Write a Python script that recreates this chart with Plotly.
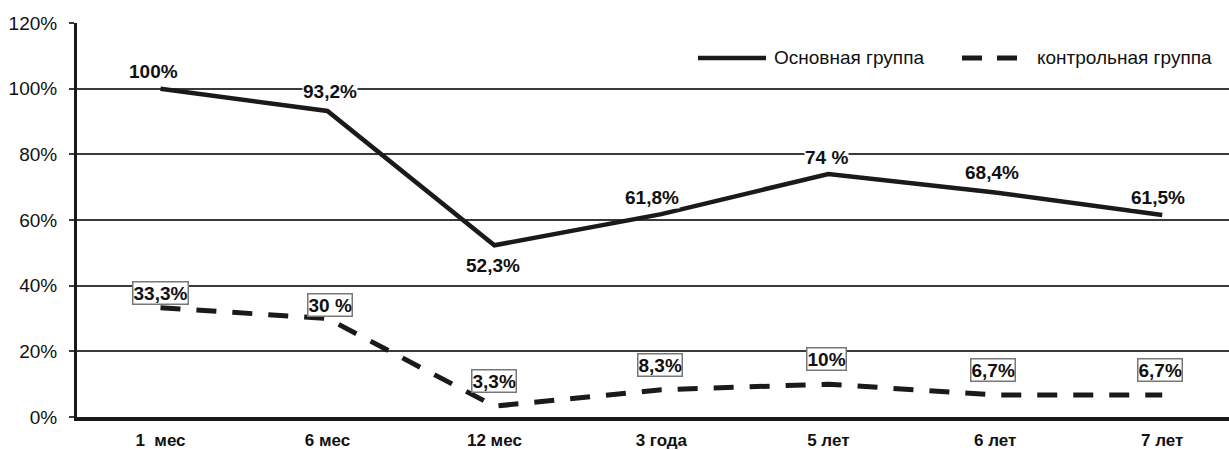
import plotly.graph_objects as go

# Periods of observation
periods = ["1\u00a0 мес", "6 мес", "12 мес", "3 года", "5 лет", "6 лет", "7 лет"]

# Share of patients, %
main_group = [100, 93.2, 52.3, 61.8, 74, 68.4, 61.5]
control_group = [33.3, 30, 3.3, 8.3, 10, 6.7, 6.7]

main_labels = ["100%", "93,2%", "52,3%", "61,8%", "74 %", "68,4%", "61,5%"]
control_labels = ["33,3%", "30 %", "3,3%", "8,3%", "10%", "6,7%", "6,7%"]

y_ticks = [0, 20, 40, 60, 80, 100, 120]
y_tick_text = ["0%", "20%", "40%", "60%", "80%", "100%", "120%"]

series_names = ["Основная группа", "контрольная группа"]

# label offsets in pixels (x, y)
main_shift = [(-7, 17), (3, 19), (-1, -20), (-9, 17), (-2, 17), (-3, 20), (-4, 18)]
control_shift = [(0, 15), (3, 14), (0, 25), (-1, 25), (-2, 25), (-2, 25), (-2, 25)]

FONT = "Liberation Sans, Arial, sans-serif"
INK = "#1a1a1a"

x_idx = list(range(len(periods)))

fig = go.Figure()
fig.add_trace(go.Scatter(
    x=x_idx, y=main_group, mode="lines", name=series_names[0],
    line=dict(color=INK, width=4.5), showlegend=False, hoverinfo="skip",
))
fig.add_trace(go.Scatter(
    x=x_idx, y=control_group, mode="lines", name=series_names[1],
    line=dict(color=INK, width=5, dash="20px,16px"), showlegend=False, hoverinfo="skip",
))

annotations = []
for i, (v, t) in enumerate(zip(main_group, main_labels)):
    dx, dy = main_shift[i]
    annotations.append(dict(
        x=i, y=v, text=f"<b>{t}</b>", showarrow=False,
        xshift=dx, yshift=dy, bgcolor="white", borderpad=0,
        font=dict(family=FONT, size=19, color="#111"),
    ))
for i, (v, t) in enumerate(zip(control_group, control_labels)):
    dx, dy = control_shift[i]
    annotations.append(dict(
        x=i, y=v, text=f"<b>{t}</b>", showarrow=False,
        xshift=dx, yshift=dy, bgcolor="white", bordercolor="#777",
        borderwidth=1.5, borderpad=0,
        font=dict(family=FONT, size=19, color="#111"),
    ))

# hand-drawn legend in the upper right corner
L, W, B, H = 77, 1152, 417, 394
def px(xp):
    return (xp - L) / W
def py(yp):
    return (B - yp) / H

leg_y = py(58)
shapes = [
    dict(type="line", xref="paper", yref="paper", x0=px(698), x1=px(766),
         y0=leg_y, y1=leg_y, line=dict(color=INK, width=4.5)),
    dict(type="line", xref="paper", yref="paper", x0=px(962), x1=px(982),
         y0=leg_y, y1=leg_y, line=dict(color=INK, width=5)),
    dict(type="line", xref="paper", yref="paper", x0=px(997), x1=px(1017),
         y0=leg_y, y1=leg_y, line=dict(color=INK, width=5)),
]
annotations.append(dict(
    xref="paper", yref="paper", x=px(772), y=leg_y, xanchor="left", yanchor="middle",
    text=series_names[0], showarrow=False, font=dict(family=FONT, size=19, color="#111"),
))
annotations.append(dict(
    xref="paper", yref="paper", x=px(1035), y=leg_y, xanchor="left", yanchor="middle",
    text=series_names[1], showarrow=False, font=dict(family=FONT, size=19, color="#111"),
))

fig.update_layout(
    width=1229, height=450,
    margin=dict(l=77, r=0, t=23, b=33),
    paper_bgcolor="white", plot_bgcolor="white",
    showlegend=False,
    annotations=annotations,
    shapes=shapes,
    xaxis=dict(
        range=[-0.5, 6.4], automargin=False,
        tickmode="array", tickvals=x_idx,
        ticktext=[f"<b>{p}</b>" for p in periods],
        tickfont=dict(family=FONT, size=17, color="#111"),
        showgrid=False, zeroline=False,
        showline=True, linecolor=INK, linewidth=4,
        ticks="", ticklabelstandoff=5,
    ),
    yaxis=dict(
        range=[0, 120], automargin=False,
        tickmode="array", tickvals=y_ticks, ticktext=y_tick_text,
        tickfont=dict(family=FONT, size=19, color="#111"),
        showgrid=True, gridcolor="#3a3a3a", gridwidth=1.5,
        zeroline=False,
        showline=True, linecolor=INK, linewidth=3,
        ticks="outside", ticklen=5, tickwidth=1.5, tickcolor="#3a3a3a",
        ticklabelstandoff=8,
    ),
)

fig.write_html("out.html")
